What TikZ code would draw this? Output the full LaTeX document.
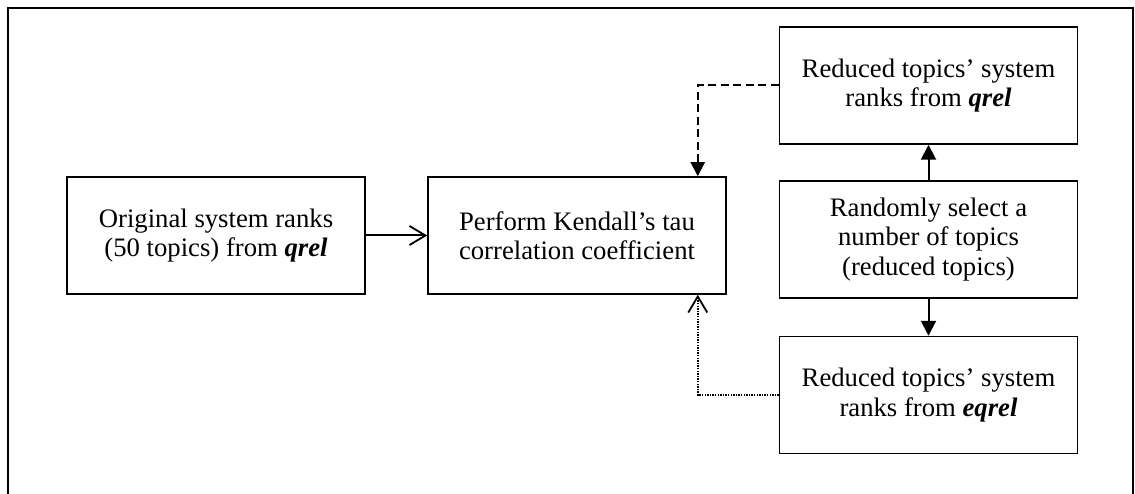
\documentclass[tikz,border=0pt]{standalone}
\usepackage{fontspec}
\setmainfont{Liberation Serif}
\usetikzlibrary{arrows.meta}
\begin{document}
\begin{tikzpicture}[x=1pt,y=-1pt,
  flowbox/.style={draw, line width=1.5pt, rectangle, minimum width=298pt, minimum height=117pt,
    align=center, inner sep=0pt, font=\fontsize{26.7}{29.5}\selectfont},
  solidfill/.style={line width=2pt, -{Triangle[length=15pt,width=15pt]}},
  openhead/.style={-{Straight Barb[length=16pt,width=19pt,line width=1.8pt]}},
]
\useasboundingbox (0,0) rectangle (1135,494);
% open-bottom frame
\draw[line width=2pt] (8,494) -- (8,8) -- (1133,8) -- (1133,494);

\node[flowbox] (orig) at (216,235.5) {Original system ranks\\(50 topics) from \textbf{\textit{qrel}}};
\node[flowbox] (kend) at (577,235.5) {Perform Kendall’s tau\\correlation coefficient};
\node[flowbox] (redq) at (928.5,85.5) {Reduced topics’ system\\ranks from \textbf{\textit{qrel}}};
\node[flowbox] (rand) at (928.5,239.5) {Randomly select a\\number of topics\\(reduced topics)};
\node[flowbox] (rede) at (928.5,395) {Reduced topics’ system\\ranks from \textbf{\textit{eqrel}}};

\coordinate (dashbend) at ([xshift=-29pt]kend.east |- redq.west);
\coordinate (dotbend) at ([xshift=-29pt]kend.east |- rede.west);

\draw[line width=2pt, openhead] (orig) -- (kend);
\draw[line width=2pt, dash pattern=on 8pt off 4.5pt, -{Triangle[length=14pt,width=14pt]}]
  (redq.west) -- (dashbend) -- (dashbend |- kend.north);
\draw[solidfill] (rand) -- (redq);
\draw[solidfill] (rand) -- (rede);
\draw[line width=2pt, dash pattern=on 1.4pt off 1.2pt, openhead]
  (rede.west) -- (dotbend) -- (dotbend |- kend.south);
\end{tikzpicture}
\end{document}
